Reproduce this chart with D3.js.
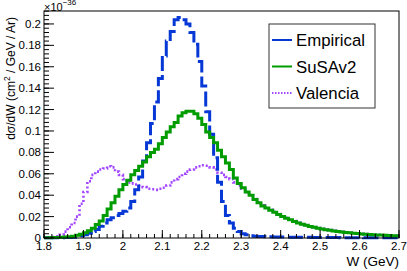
<!DOCTYPE html>
<html>
<head>
<meta charset="utf-8">
<script src="https://cdn.jsdelivr.net/npm/d3@7"></script>
<style>
  body { margin: 0; background: #fff; }
  svg { display: block; font-family: "Liberation Sans", Arial, sans-serif; }
</style>
</head>
<body>
<div id="chart"></div>
<script>
// W bins: 90 bins of 0.01 GeV from 1.8 to 2.7, values in 1e-36 cm2/GeV/Ar
const binLow = 1.8;
const binWidth = 0.01;

const empirical = [
  0.0002, 0.0002, 0.0003, 0.0003, 0.0003, 0.0004, 0.0005, 0.0007, 0.001, 0.002,
  0.003, 0.0045, 0.006, 0.008, 0.011, 0.014, 0.017, 0.019, 0.021, 0.023,
  0.025, 0.028, 0.034, 0.045, 0.057, 0.072, 0.089, 0.107, 0.127, 0.149,
  0.170, 0.184, 0.193, 0.204, 0.206, 0.204, 0.200, 0.192, 0.181, 0.165,
  0.142, 0.118, 0.097, 0.075, 0.052, 0.034, 0.021, 0.014, 0.009, 0.006,
  0.004, 0.003, 0.002, 0.0016, 0.0014, 0.0013, 0.0012, 0.0011, 0.001, 0.0009,
  0.0009, 0.0008, 0.0008, 0.0007, 0.0007, 0.0006, 0.0006, 0.0006, 0.0005, 0.0005,
  0.0005, 0.0004, 0.0004, 0.0004, 0.0004, 0.0003, 0.0003, 0.0003, 0.0003, 0.0003,
  0.0003, 0.0002, 0.0002, 0.0002, 0.0002, 0.0002, 0.0002, 0.0002, 0.0002, 0.0002
];

const susav2 = [
  0.0002, 0.0003, 0.0004, 0.0005, 0.0007, 0.0009, 0.0012, 0.0017, 0.0025, 0.0035,
  0.005, 0.0068, 0.009, 0.0125, 0.016, 0.021, 0.027, 0.033, 0.039, 0.045,
  0.050, 0.054, 0.059, 0.063, 0.067, 0.071, 0.076, 0.080, 0.083, 0.088,
  0.094, 0.099, 0.104, 0.108, 0.114, 0.117, 0.1185, 0.1185, 0.116, 0.112,
  0.106, 0.099, 0.094, 0.089, 0.082, 0.076, 0.070, 0.064, 0.056, 0.051,
  0.047, 0.043, 0.040, 0.036, 0.033, 0.030, 0.028, 0.026, 0.024, 0.022,
  0.020, 0.0185, 0.017, 0.0155, 0.014, 0.0128, 0.0118, 0.0108, 0.010, 0.0092,
  0.0085, 0.0078, 0.0072, 0.0066, 0.0061, 0.0056, 0.0052, 0.0048, 0.0044, 0.0041,
  0.0038, 0.0035, 0.0033, 0.0031, 0.0029, 0.0027, 0.0025, 0.0023, 0.0022, 0.0020
];

const valencia = [
  0.0005, 0.0007, 0.001, 0.0015, 0.003, 0.006, 0.010, 0.014, 0.020, 0.032,
  0.043, 0.053, 0.059, 0.062, 0.064, 0.065, 0.067, 0.066, 0.062, 0.059,
  0.055, 0.052, 0.051, 0.050, 0.049, 0.0475, 0.046, 0.0455, 0.045, 0.046,
  0.047, 0.049, 0.052, 0.055, 0.057, 0.060, 0.062, 0.064, 0.066, 0.067,
  0.068, 0.0675, 0.066, 0.064, 0.061, 0.059, 0.057, 0.055, 0.052, 0.049,
  0.046, 0.043, 0.040, 0.0365, 0.0335, 0.0305, 0.0283, 0.0263, 0.0243, 0.0223,
  0.0203, 0.0188, 0.0173, 0.0158, 0.0143, 0.013, 0.012, 0.011, 0.0102, 0.0094,
  0.0087, 0.008, 0.0074, 0.0068, 0.0063, 0.0058, 0.0053, 0.0049, 0.0045, 0.0042,
  0.0039, 0.0036, 0.0034, 0.0032, 0.003, 0.0028, 0.0026, 0.0024, 0.0023, 0.0021
];

const xTicks = [1.8, 1.9, 2, 2.1, 2.2, 2.3, 2.4, 2.5, 2.6, 2.7];
const yTicks = [0, 0.02, 0.04, 0.06, 0.08, 0.1, 0.12, 0.14, 0.16, 0.18, 0.2];

const series = [
  { name: "Valencia", values: valencia, color: "#a346ff", width: 2.6, dash: "2,2.4" },
  { name: "Empirical", values: empirical, color: "#0638d6", width: 3, dash: "15,4" },
  { name: "SuSAv2", values: susav2, color: "#009c00", width: 3, dash: null }
];
const legendOrder = ["Empirical", "SuSAv2", "Valencia"];

const W = 407, H = 271;
const frame = { left: 44, right: 399, top: 11, bottom: 238 };

const svg = d3.select("#chart").append("svg")
  .attr("width", W).attr("height", H);

const x = d3.scaleLinear().domain([1.8, 2.7]).range([frame.left, frame.right]);
const y = d3.scaleLinear().domain([0, 0.2121]).range([frame.bottom, frame.top]);

// histogram lines
const plot = svg.append("g");
plot.append("clipPath").attr("id", "clip")
  .append("rect")
  .attr("x", frame.left).attr("y", frame.top - 2)
  .attr("width", frame.right - frame.left).attr("height", frame.bottom - frame.top + 4);

const line = d3.line()
  .x((d) => x(d[0]))
  .y((d) => y(d[1]))
  .curve(d3.curveStepAfter);

function stepPoints(values) {
  const pts = values.map((v, i) => [binLow + i * binWidth, v]);
  pts.push([binLow + values.length * binWidth, values[values.length - 1]]);
  return pts;
}

plot.selectAll(".hist")
  .data(series)
  .enter()
  .append("path")
  .attr("class", "hist")
  .attr("clip-path", "url(#clip)")
  .attr("d", (d) => line(stepPoints(d.values)))
  .attr("fill", "none")
  .attr("stroke", (d) => d.color)
  .attr("stroke-width", (d) => d.width)
  .attr("stroke-dasharray", (d) => d.dash);

// frame
svg.append("rect")
  .attr("x", frame.left).attr("y", frame.top)
  .attr("width", frame.right - frame.left)
  .attr("height", frame.bottom - frame.top)
  .attr("fill", "none").attr("stroke", "#000").attr("stroke-width", 1);

// x axis
const xAxis = svg.append("g");
const xMinor = d3.range(1.8, 2.7001, 0.02);
xAxis.selectAll(".xminor").data(xMinor).enter().append("line")
  .attr("x1", (d) => x(d)).attr("x2", (d) => x(d))
  .attr("y1", frame.bottom).attr("y2", frame.bottom - 4)
  .attr("stroke", "#000");
xAxis.selectAll(".xmajor").data(xTicks).enter().append("line")
  .attr("x1", (d) => x(d)).attr("x2", (d) => x(d))
  .attr("y1", frame.bottom).attr("y2", frame.bottom - 8)
  .attr("stroke", "#000");
xAxis.selectAll(".xlab").data(xTicks).enter().append("text")
  .attr("x", (d) => x(d)).attr("y", 250)
  .attr("text-anchor", "middle")
  .attr("font-size", 11.5)
  .text((d) => d3.format("")(d));
svg.append("text")
  .attr("x", frame.right).attr("y", 266)
  .attr("text-anchor", "end")
  .attr("font-size", 13.5)
  .text("W (GeV)");

// y axis
const yAxis = svg.append("g");
const yMinor = d3.range(0, 0.2121, 0.004);
yAxis.selectAll(".yminor").data(yMinor).enter().append("line")
  .attr("x1", frame.left).attr("x2", frame.left + 5)
  .attr("y1", (d) => y(d)).attr("y2", (d) => y(d))
  .attr("stroke", "#000");
yAxis.selectAll(".ymajor").data(yTicks).enter().append("line")
  .attr("x1", frame.left).attr("x2", frame.left + 10)
  .attr("y1", (d) => y(d)).attr("y2", (d) => y(d))
  .attr("stroke", "#000");
yAxis.selectAll(".ylab").data(yTicks).enter().append("text")
  .attr("x", 41).attr("y", (d) => y(d) + 4)
  .attr("text-anchor", "end")
  .attr("font-size", 11.5)
  .text((d) => d3.format("")(d));

const expo = svg.append("text").attr("x", 44).attr("y", 11).attr("font-size", 11);
expo.append("tspan").text("\u00d710");
expo.append("tspan").attr("dy", -6).attr("font-size", 8).text("\u221236");

const yLabel = svg.append("text")
  .attr("transform", "translate(15,17) rotate(-90)")
  .attr("text-anchor", "end")
  .attr("font-size", 12);
yLabel.append("tspan").text("d\u03c3/dW (cm");
yLabel.append("tspan").attr("dy", -5).attr("font-size", 8.5).text("2");
yLabel.append("tspan").attr("dy", 5).text(" / GeV / Ar)");

// legend
const legend = svg.append("g");
legend.append("rect")
  .attr("x", 269).attr("y", 24).attr("width", 106).attr("height", 84)
  .attr("fill", "#fff").attr("stroke", "#333").attr("stroke-width", 1);
const entries = legendOrder.map((n) => series.find((s) => s.name === n));
const entry = legend.selectAll(".entry").data(entries).enter().append("g")
  .attr("transform", (d, i) => "translate(0," + (40 + i * 26.5) + ")");
entry.append("line")
  .attr("x1", 272).attr("x2", 292)
  .attr("stroke", (d) => d.color)
  .attr("stroke-width", 2)
  .attr("stroke-dasharray", (d) => (d.name === "Valencia" ? "1.5,1.5" : null));
entry.append("text")
  .attr("x", 296).attr("y", 6)
  .attr("font-size", 16.8)
  .text((d) => d.name);
</script>
</body>
</html>
